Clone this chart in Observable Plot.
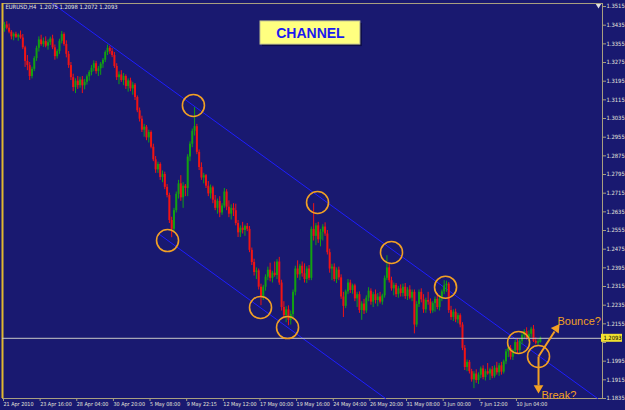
<!DOCTYPE html>
<html><head><meta charset="utf-8">
<script src="https://cdn.jsdelivr.net/npm/d3@7"></script>
<script src="https://cdn.jsdelivr.net/npm/@observablehq/plot@0.6"></script>
<style>html,body{margin:0;padding:0;background:#191970;overflow:hidden;} #chart{width:625px;height:410px;}</style>
</head><body><div id="chart"></div>
<script>
// ---- data (EURUSD H4 candles) ----
const symbol = "EURUSD,H4";
const open = [
1.3420,1.3436,1.3422,1.3405,1.3385,1.3396,1.3383,1.3392,1.3380,1.3338,
1.3280,1.3262,1.3215,1.3246,1.3292,1.3336,1.3372,1.3352,1.3365,1.3345,
1.3360,1.3376,1.3338,1.3300,1.3322,1.3366,1.3395,1.3352,1.3310,1.3262,
1.3210,1.3168,1.3195,1.3176,1.3200,1.3175,1.3190,1.3214,1.3232,1.3250,
1.3270,1.3236,1.3248,1.3268,1.3285,1.3318,1.3336,1.3322,1.3305,1.3258,
1.3210,1.3222,1.3198,1.3215,1.3172,1.3196,1.3162,1.3178,1.3125,1.3068,
1.3032,1.2985,1.2998,1.2952,1.2975,1.2912,1.2858,1.2815,1.2838,1.2782,
1.2795,1.2740,1.2705,1.2598,1.2560,1.2640,1.2710,1.2755,1.2695,1.2745,
1.2735,1.2870,1.2925,1.2980,1.3000,1.2890,1.2825,1.2780,1.2790,1.2745,
1.2712,1.2738,1.2685,1.2650,1.2680,1.2630,1.2660,1.2720,1.2655,1.2625,
1.2650,1.2640,1.2585,1.2545,1.2565,1.2555,1.2572,1.2560,1.2470,1.2418,
1.2375,1.2382,1.2312,1.2270,1.2312,1.2355,1.2385,1.2350,1.2372,1.2362,
1.2420,1.2330,1.2225,1.2190,1.2215,1.2170,1.2195,1.2290,1.2390,1.2365,
1.2402,1.2370,1.2345,1.2390,1.2350,1.2560,1.2530,1.2575,1.2515,1.2548,
1.2570,1.2540,1.2460,1.2390,1.2398,1.2345,1.2385,1.2352,1.2270,1.2230,
1.2292,1.2330,1.2298,1.2318,1.2262,1.2280,1.2212,1.2240,1.2210,1.2265,
1.2295,1.2248,1.2280,1.2255,1.2270,1.2248,1.2275,1.2350,1.2395,1.2340,
1.2305,1.2320,1.2280,1.2305,1.2285,1.2312,1.2272,1.2300,1.2265,1.2290,
1.2150,1.2238,1.2290,1.2258,1.2215,1.2255,1.2248,1.2210,1.2242,1.2260,
1.2225,1.2262,1.2292,1.2318,1.2325,1.2212,1.2182,1.2205,1.2172,1.2190,
1.2150,1.2050,1.1968,1.1990,1.1950,1.1915,1.1940,1.1912,1.1935,1.1962,
1.1925,1.1950,1.1940,1.1958,1.1930,1.1965,1.1945,1.1975,1.1948,1.1992,
1.2035,1.2050,1.2012,1.2038,1.2075,1.2040,1.2080,1.2105,1.2122,1.2095,
1.2110,1.2132,1.2080,1.2072,1.2075];
const high = [
1.3447,1.3450,1.3440,1.3412,1.3402,1.3405,1.3398,1.3410,1.3395,1.3345,
1.3305,1.3275,1.3255,1.3300,1.3345,1.3385,1.3392,1.3380,1.3385,1.3372,
1.3384,1.3392,1.3350,1.3330,1.3375,1.3408,1.3402,1.3368,1.3322,1.3275,
1.3225,1.3205,1.3215,1.3212,1.3215,1.3202,1.3222,1.3240,1.3262,1.3282,
1.3280,1.3258,1.3275,1.3292,1.3325,1.3350,1.3345,1.3335,1.3318,1.3270,
1.3235,1.3240,1.3228,1.3222,1.3205,1.3208,1.3190,1.3185,1.3132,1.3080,
1.3045,1.3010,1.3005,1.2985,1.2982,1.2925,1.2872,1.2848,1.2845,1.2810,
1.2805,1.2752,1.2715,1.2612,1.2650,1.2720,1.2770,1.2790,1.2760,1.2752,
1.2880,1.2935,1.2990,1.3082,1.3010,1.2900,1.2845,1.2800,1.2795,1.2765,
1.2750,1.2745,1.2705,1.2690,1.2700,1.2670,1.2735,1.2730,1.2682,1.2665,
1.2670,1.2668,1.2598,1.2575,1.2590,1.2578,1.2585,1.2572,1.2480,1.2432,
1.2395,1.2390,1.2325,1.2320,1.2365,1.2398,1.2415,1.2380,1.2420,1.2430,
1.2440,1.2342,1.2250,1.2228,1.2232,1.2210,1.2300,1.2402,1.2425,1.2410,
1.2420,1.2412,1.2400,1.2405,1.2570,1.2670,1.2585,1.2590,1.2560,1.2580,
1.2588,1.2555,1.2475,1.2410,1.2412,1.2395,1.2398,1.2365,1.2290,1.2300,
1.2345,1.2342,1.2325,1.2325,1.2290,1.2292,1.2250,1.2260,1.2275,1.2310,
1.2305,1.2290,1.2300,1.2285,1.2290,1.2282,1.2360,1.2447,1.2410,1.2355,
1.2330,1.2328,1.2315,1.2322,1.2325,1.2328,1.2310,1.2318,1.2300,1.2300,
1.2250,1.2300,1.2305,1.2280,1.2265,1.2290,1.2262,1.2250,1.2270,1.2285,
1.2270,1.2300,1.2340,1.2338,1.2332,1.2230,1.2215,1.2218,1.2200,1.2198,
1.2160,1.2062,1.2000,1.1998,1.1960,1.1950,1.1958,1.1945,1.1970,1.1975,
1.1960,1.1985,1.1965,1.1972,1.1975,1.1990,1.1985,1.1990,1.2000,1.2045,
1.2060,1.2062,1.2045,1.2085,1.2090,1.2088,1.2115,1.2130,1.2138,1.2125,
1.2140,1.2148,1.2095,1.2088,1.2098];
const low = [
1.3405,1.3415,1.3398,1.3372,1.3368,1.3378,1.3366,1.3375,1.3330,1.3254,
1.3240,1.3198,1.3205,1.3236,1.3280,1.3320,1.3345,1.3340,1.3338,1.3328,
1.3348,1.3330,1.3285,1.3290,1.3310,1.3355,1.3345,1.3295,1.3250,1.3198,
1.3150,1.3142,1.3160,1.3165,1.3142,1.3158,1.3178,1.3195,1.3218,1.3236,
1.3225,1.3215,1.3220,1.3250,1.3275,1.3305,1.3310,1.3296,1.3250,1.3198,
1.3180,1.3190,1.3176,1.3160,1.3148,1.3150,1.3135,1.3112,1.3060,1.3020,
1.2975,1.2955,1.2940,1.2930,1.2905,1.2850,1.2800,1.2800,1.2770,1.2760,
1.2730,1.2695,1.2585,1.2524,1.2550,1.2630,1.2690,1.2680,1.2650,1.2700,
1.2700,1.2850,1.2910,1.2960,1.2880,1.2812,1.2770,1.2755,1.2735,1.2700,
1.2690,1.2670,1.2640,1.2625,1.2610,1.2620,1.2650,1.2640,1.2610,1.2600,
1.2615,1.2575,1.2525,1.2525,1.2540,1.2530,1.2550,1.2460,1.2405,1.2360,
1.2345,1.2300,1.2233,1.2255,1.2295,1.2340,1.2335,1.2330,1.2355,1.2345,
1.2320,1.2210,1.2175,1.2160,1.2147,1.2150,1.2180,1.2275,1.2350,1.2340,
1.2355,1.2330,1.2328,1.2340,1.2340,1.2510,1.2490,1.2500,1.2485,1.2510,
1.2530,1.2450,1.2372,1.2340,1.2335,1.2328,1.2340,1.2260,1.2182,1.2220,
1.2280,1.2285,1.2282,1.2250,1.2225,1.2200,1.2170,1.2195,1.2200,1.2250,
1.2235,1.2225,1.2240,1.2228,1.2240,1.2235,1.2265,1.2340,1.2330,1.2295,
1.2275,1.2268,1.2265,1.2270,1.2270,1.2260,1.2255,1.2258,1.2250,1.2112,
1.2140,1.2225,1.2245,1.2200,1.2200,1.2235,1.2198,1.2200,1.2205,1.2215,
1.2210,1.2250,1.2280,1.2290,1.2200,1.2170,1.2165,1.2160,1.2155,1.2138,
1.2040,1.1955,1.1950,1.1940,1.1905,1.1877,1.1900,1.1895,1.1920,1.1915,
1.1910,1.1935,1.1912,1.1920,1.1922,1.1935,1.1930,1.1935,1.1940,1.1980,
1.2010,1.2000,1.1998,1.2025,1.2025,1.2030,1.2065,1.2090,1.2085,1.2080,
1.2095,1.2075,1.2065,1.2060,1.2072];
const close = [
1.3436,1.3422,1.3405,1.3385,1.3396,1.3383,1.3392,1.3380,1.3338,1.3280,
1.3262,1.3215,1.3246,1.3292,1.3336,1.3372,1.3352,1.3365,1.3345,1.3360,
1.3376,1.3338,1.3300,1.3322,1.3366,1.3395,1.3352,1.3310,1.3262,1.3210,
1.3168,1.3195,1.3176,1.3200,1.3175,1.3190,1.3214,1.3232,1.3250,1.3270,
1.3236,1.3248,1.3268,1.3285,1.3318,1.3336,1.3322,1.3305,1.3258,1.3210,
1.3222,1.3198,1.3215,1.3172,1.3196,1.3162,1.3178,1.3125,1.3068,1.3032,
1.2985,1.2998,1.2952,1.2975,1.2912,1.2858,1.2815,1.2838,1.2782,1.2795,
1.2740,1.2705,1.2598,1.2560,1.2640,1.2710,1.2755,1.2695,1.2745,1.2735,
1.2870,1.2925,1.2980,1.3000,1.2890,1.2825,1.2780,1.2790,1.2745,1.2712,
1.2738,1.2685,1.2650,1.2680,1.2630,1.2660,1.2720,1.2655,1.2625,1.2650,
1.2640,1.2585,1.2545,1.2565,1.2555,1.2572,1.2560,1.2470,1.2418,1.2375,
1.2382,1.2312,1.2270,1.2312,1.2355,1.2385,1.2350,1.2372,1.2362,1.2420,
1.2330,1.2225,1.2190,1.2215,1.2170,1.2195,1.2290,1.2390,1.2365,1.2402,
1.2370,1.2345,1.2390,1.2350,1.2560,1.2530,1.2575,1.2515,1.2548,1.2570,
1.2540,1.2460,1.2390,1.2398,1.2345,1.2385,1.2352,1.2270,1.2230,1.2292,
1.2330,1.2298,1.2318,1.2262,1.2280,1.2212,1.2240,1.2210,1.2265,1.2295,
1.2248,1.2280,1.2255,1.2270,1.2248,1.2275,1.2350,1.2395,1.2340,1.2305,
1.2320,1.2280,1.2305,1.2285,1.2312,1.2272,1.2300,1.2265,1.2290,1.2150,
1.2238,1.2290,1.2258,1.2215,1.2255,1.2248,1.2210,1.2242,1.2260,1.2225,
1.2262,1.2292,1.2318,1.2325,1.2212,1.2182,1.2205,1.2172,1.2190,1.2150,
1.2050,1.1968,1.1990,1.1950,1.1915,1.1940,1.1912,1.1935,1.1962,1.1925,
1.1950,1.1940,1.1958,1.1930,1.1965,1.1945,1.1975,1.1948,1.1992,1.2035,
1.2050,1.2012,1.2038,1.2075,1.2040,1.2080,1.2105,1.2122,1.2095,1.2110,
1.2132,1.2080,1.2072,1.2078,1.2093];

const timeTickBars = [0,16,32,48,64,80,96,112,128,144,160,176,192,208,224];
const timeLabels = ["21 Apr 2010","23 Apr 16:00","28 Apr 04:00","30 Apr 20:00","5 May 08:00","9 May 22:15",
  "12 May 12:00","17 May 00:00","19 May 16:00","24 May 04:00","26 May 20:00","31 May 08:00",
  "3 Jun 00:00","7 Jun 12:00","10 Jun 04:00"];
const priceTicks = [1.3515,1.3435,1.3355,1.3275,1.3195,1.3115,1.3035,1.2955,1.2875,1.2795,1.2715,
  1.2635,1.2555,1.2475,1.2395,1.2315,1.2235,1.2155,1.2075,1.1995,1.1915,1.1835];

// channel trend lines (bar index, price)
const upperBars = [21.0, 259.0];
const upperPrices = [1.3528, 1.1835];
const lowerBars = [67.3, 166.4];
const lowerPrices = [1.2541, 1.1835];

// touch points circled on the chart
const touchBars = [82.5, 71.2, 111.8, 123.6, 136.7, 169.0, 192.6, 224.5, 233.2];
const touchPrices = [1.3091, 1.2512, 1.2225, 1.2139, 1.2675, 1.2461, 1.2312, 1.2075, 1.2015];

const titleText = "CHANNEL";
const bounceText = "Bounce?";
const breakText = "Break?";

// ---- build ----
const xDomain = [-0.873, 261.14];
const yDomain = [1.1835, 1.3528];
const UP = "#12a012", DOWN = "#f01414", ORANGE = "#f2a024";
const n = close.length;
const candles = d3.range(n).map(i => ({i, o: open[i], h: high[i], l: low[i], c: close[i]}));
const col = d => d.c >= d.o ? UP : DOWN;
const last = candles[n - 1];
const header = `${symbol}  ${last.o.toFixed(4)} ${last.h.toFixed(4)} ${last.l.toFixed(4)} ${last.c.toFixed(4)}`;
const upper = upperBars.map((b, k) => ({b, p: upperPrices[k]}));
const lower = lowerBars.map((b, k) => ({b, p: lowerPrices[k]}));
const touches = touchBars.map((b, k) => ({b, p: touchPrices[k]}));
const origin = touches[touches.length - 1];
// the price tag covers the tick label nearest to the last close
const hiddenTick = priceTicks.reduce((a, t) => Math.abs(t - last.c) < Math.abs(a - last.c) ? t : a);
const AXFONT = "Tahoma, 'DejaVu Sans Condensed', 'Liberation Sans', sans-serif";

const chart = Plot.plot({
  width: 625, height: 410,
  marginLeft: 2, marginRight: 23, marginTop: 3, marginBottom: 12,
  style: {background: "#191970", fontFamily: "'Liberation Sans', Arial, sans-serif", overflow: "visible"},
  x: {domain: xDomain, axis: null},
  y: {domain: yDomain, axis: null},
  marks: [
    Plot.frame({stroke: "#a89f80"}),
    Plot.ruleX([xDomain[0]], {stroke: "#e0b830", strokeWidth: 2}),
    Plot.axisX(timeTickBars, {anchor: "bottom", tickSize: 3, tickPadding: 1, textAnchor: "start", dx: -1,
      tickFormat: d => timeLabels[timeTickBars.indexOf(d)], fontSize: 5.4, fill: "#e4e4dc", stroke: "#a89f80",
      fontFamily: AXFONT}),
    Plot.axisY(priceTicks, {anchor: "right", tickSize: 3, tickPadding: 1,
      tickFormat: d => d === hiddenTick ? "" : d.toFixed(4), fontSize: 5.8, fill: "#e4e4dc", stroke: "#a89f80",
      fontFamily: AXFONT}),
    Plot.line(upper, {x: "b", y: "p", stroke: "#1e1eff", strokeWidth: 1}),
    Plot.line(lower, {x: "b", y: "p", stroke: "#1e1eff", strokeWidth: 1}),
    Plot.ruleX(candles, {x: "i", y1: "l", y2: "h", stroke: col, strokeWidth: 1}),
    Plot.ruleX(candles, {x: "i", y1: "o", y2: "c", stroke: col, strokeWidth: 2}),
    Plot.ruleY([last.c], {stroke: "#c8c8c8", strokeWidth: 1}),
    Plot.rect([last.c], {x1: () => xDomain[1], x2: () => xDomain[1], y1: d => d, y2: d => d,
      insetLeft: -1, insetRight: -20, insetTop: -4, insetBottom: -4, fill: "#f0e030"}),
    Plot.text([last.c], {x: () => xDomain[1], y: d => d, dx: 10, text: d => d.toFixed(4),
      fontSize: 5.8, fill: "#000", textAnchor: "middle", fontFamily: AXFONT}),
    Plot.text([header], {frameAnchor: "top-left", dx: 3, dy: 1, lineAnchor: "top", textAnchor: "start",
      fontSize: 5.8, fill: "#e8e8e0", fontFamily: AXFONT}),
    Plot.dot([0], {frameAnchor: "top-right", dx: -4, dy: 2, symbol: "triangle", rotate: 180, r: 2, fill: "#e0e0e0"}),
    // title box
    Plot.rect([0], {x1: 111.8, x2: 155.4, y1: 1.3451, y2: 1.3352, dx: 2, dy: 2, fill: "#0c0c48"}),
    Plot.rect([0], {x1: 111.8, x2: 155.4, y1: 1.3451, y2: 1.3352, fill: "#ffff80", stroke: "#c8c890", strokeWidth: 1}),
    Plot.text([titleText], {x: 133.6, y: 1.3401, text: d => d, fontSize: 14, fontWeight: "bold",
      fill: "#1a1af0", fontFamily: "Arial, 'Liberation Sans', sans-serif"}),
    // touch circles
    Plot.dot(touches, {x: "b", y: "p", r: 11, stroke: ORANGE, strokeWidth: 1.6, fill: "none"}),
    // arrows
    Plot.link([origin], {x1: "b", y1: "p", x2: () => 240.2, y2: () => 1.2122, stroke: ORANGE, strokeWidth: 2}),
    Plot.dot([origin], {x: () => 241.0, y: () => 1.2135, symbol: "triangle", rotate: 35, r: 3.6, fill: ORANGE}),
    Plot.link([origin], {x1: "b", y1: "p", x2: "b", y2: () => 1.1891, stroke: ORANGE, strokeWidth: 2}),
    Plot.dot([origin], {x: "b", y: () => 1.1880, symbol: "triangle", rotate: 180, r: 3.6, fill: ORANGE}),
    Plot.text([bounceText], {x: 241.5, y: 1.2165, text: d => d, textAnchor: "start", fontSize: 11, fill: ORANGE,
      fontFamily: "Arial, 'Liberation Sans', sans-serif"}),
    Plot.text([breakText], {x: 234.5, y: 1.1848, text: d => d, textAnchor: "start", fontSize: 11, fill: ORANGE,
      fontFamily: "Arial, 'Liberation Sans', sans-serif"})
  ]
});
document.getElementById("chart").appendChild(chart);
</script>
</body></html>
